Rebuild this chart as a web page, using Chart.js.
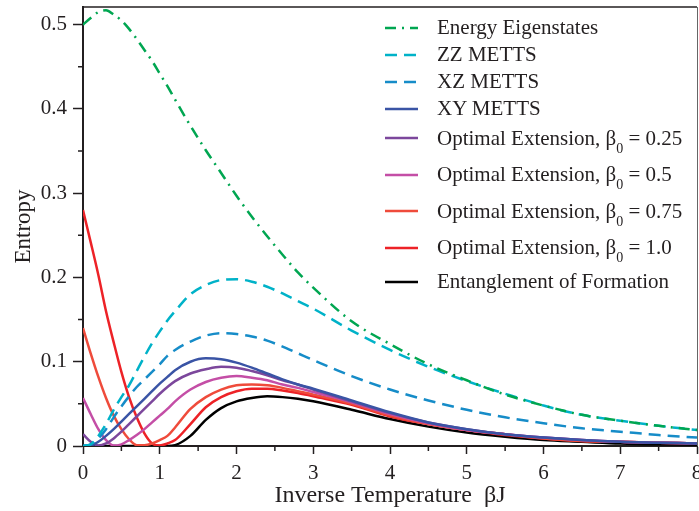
<!DOCTYPE html>
<html>
<head>
<meta charset="utf-8">
<script src="https://cdn.jsdelivr.net/npm/chart.js@4.4.1/dist/chart.umd.min.js"></script>
<style>
  html, body { margin: 0; padding: 0; background: #fff; overflow: hidden; }
  #wrap { position: relative; width: 699px; height: 511px; }
  #legend {
    position: absolute; left: 385px; top: 14px;
    font-family: 'Liberation Serif', 'Times New Roman', serif;
    font-size: 21px; color: #231f20;
  }
  .row { display: flex; align-items: center; height: 27px; white-space: nowrap; box-sizing: border-box; }
  .row.tall { height: 36.5px; padding-bottom: 4px; }
  .row svg { width: 33px; height: 6px; margin-right: 19px; flex: none; }
  sub { font-size: 14px; vertical-align: -8px; line-height: 0; }
</style>
</head>
<body>
<div id="wrap">
  <canvas id="entropyChart" width="699" height="511"></canvas>
  <div id="legend"></div>
</div>
<script>
// valores
const betaJ = [0, 0.1, 0.2, 0.3, 0.4, 0.5, 0.6, 0.7, 0.8, 0.9, 1.0, 1.1, 1.2, 1.4, 1.6, 1.8, 2.0, 2.2, 2.4, 2.6, 2.8, 3.0, 3.5, 4, 4.5, 5, 5.5, 6, 6.5, 7, 7.5, 8];

const energyEig = [0.500, 0.508, 0.515, 0.517, 0.512, 0.505, 0.495, 0.483, 0.470, 0.457, 0.442, 0.427, 0.411, 0.380, 0.351, 0.324, 0.297, 0.272, 0.249, 0.227, 0.206, 0.188, 0.148, 0.121, 0.097, 0.078, 0.061, 0.048, 0.037, 0.030, 0.024, 0.019];
const zzMetts = [0, 0.002, 0.012, 0.026, 0.043, 0.058, 0.072, 0.089, 0.106, 0.122, 0.136, 0.149, 0.160, 0.180, 0.191, 0.197, 0.198, 0.195, 0.189, 0.181, 0.172, 0.163, 0.137, 0.114, 0.094, 0.077, 0.062, 0.048, 0.037, 0.030, 0.024, 0.019];
const xzMetts = [0, 0.002, 0.009, 0.020, 0.034, 0.047, 0.059, 0.070, 0.079, 0.088, 0.097, 0.107, 0.114, 0.124, 0.131, 0.134, 0.133, 0.130, 0.125, 0.118, 0.110, 0.102, 0.083, 0.067, 0.054, 0.043, 0.034, 0.027, 0.021, 0.017, 0.013, 0.010];
const xyMetts = [0, 0.0005, 0.005, 0.012, 0.020, 0.029, 0.038, 0.047, 0.056, 0.065, 0.074, 0.082, 0.090, 0.100, 0.104, 0.103, 0.099, 0.093, 0.086, 0.079, 0.073, 0.068, 0.054, 0.040, 0.028, 0.020, 0.014, 0.010, 0.007, 0.005, 0.004, 0.003];
const optExt025 = [0.014, 0.005, 0.0005, 0.003, 0.009, 0.017, 0.026, 0.035, 0.044, 0.053, 0.062, 0.070, 0.077, 0.086, 0.091, 0.094, 0.093, 0.089, 0.084, 0.078, 0.073, 0.067, 0.053, 0.039, 0.028, 0.020, 0.014, 0.010, 0.007, 0.005, 0.004, 0.003];
const optExt05 = [0.057, 0.038, 0.020, 0.007, 0.0005, 0.002, 0.007, 0.013, 0.020, 0.028, 0.036, 0.044, 0.053, 0.067, 0.076, 0.081, 0.083, 0.081, 0.078, 0.073, 0.069, 0.064, 0.052, 0.038, 0.027, 0.019, 0.014, 0.010, 0.007, 0.005, 0.004, 0.003];
const optExt075 = [0.140, 0.110, 0.082, 0.057, 0.036, 0.020, 0.008, 0.001, 0.001, 0.003, 0.007, 0.012, 0.022, 0.044, 0.058, 0.067, 0.072, 0.073, 0.072, 0.069, 0.065, 0.061, 0.050, 0.036, 0.026, 0.019, 0.014, 0.009, 0.006, 0.005, 0.004, 0.003];
const optExt10 = [0.280, 0.242, 0.203, 0.160, 0.123, 0.088, 0.058, 0.034, 0.015, 0.003, 0.0005, 0.003, 0.007, 0.026, 0.046, 0.058, 0.065, 0.068, 0.068, 0.066, 0.063, 0.059, 0.049, 0.035, 0.026, 0.019, 0.013, 0.009, 0.006, 0.005, 0.004, 0.003];
const entFormation = [0, 0, 0, 0, 0, 0, 0, 0, 0, 0, 0, 0, 0.001, 0.012, 0.031, 0.045, 0.053, 0.057, 0.059, 0.058, 0.056, 0.053, 0.043, 0.032, 0.023, 0.016, 0.011, 0.007, 0.005, 0.003, 0.002, 0.0015];

const xTicks = [0, 1, 2, 3, 4, 5, 6, 7, 8];
const xMinorTicks = [0.5, 1.5, 2.5, 3.5, 4.5, 5.5, 6.5, 7.5];
const yTicks = [0, 0.1, 0.2, 0.3, 0.4, 0.5];
const yMinorTicks = [0.05, 0.15, 0.25, 0.35, 0.45];

const SERIF = "'Liberation Serif', 'Times New Roman', serif";
const INK = '#231f20';

const toPoints = (vals) => betaJ.map((x, i) => ({ x: x, y: vals[i] }));

function serie(label, vals, color, dash) {
  return {
    label: label,
    data: toPoints(vals),
    borderColor: color,
    backgroundColor: color,
    borderWidth: 2.5,
    borderDash: dash || [],
    fill: false,
    pointRadius: 0,
    cubicInterpolationMode: 'monotone',
  };
}

// marcas menores y marco superior/derecho
const frameTicks = {
  id: 'frameTicks',
  afterDraw(chart) {
    const { ctx, chartArea: a, scales: { x, y } } = chart;
    ctx.save();
    ctx.strokeStyle = INK;
    ctx.lineWidth = 1.5;
    ctx.beginPath();
    xMinorTicks.forEach((v) => {
      const px = x.getPixelForValue(v);
      ctx.moveTo(px, a.bottom);
      ctx.lineTo(px, a.bottom + 5);
    });
    yMinorTicks.forEach((v) => {
      const py = y.getPixelForValue(v);
      ctx.moveTo(a.left, py);
      ctx.lineTo(a.left - 5, py);
    });
    ctx.stroke();
    ctx.beginPath();
    ctx.moveTo(a.left, a.top);
    ctx.lineTo(a.right, a.top);
    ctx.stroke();
    ctx.strokeStyle = '#666';
    ctx.lineWidth = 1;
    ctx.beginPath();
    ctx.moveTo(a.right + 0.5, a.top);
    ctx.lineTo(a.right + 0.5, a.bottom);
    ctx.stroke();
    ctx.restore();
  },
};

function buildLegend(chart) {
  const box = document.getElementById('legend');
  box.innerHTML = '';
  chart.data.datasets.forEach((ds) => {
    const row = document.createElement('div');
    const hasSub = ds.label.includes('β0');
    row.className = hasSub ? 'row tall' : 'row';
    const dash = (ds.borderDash || []).join(' ');
    row.innerHTML =
      `<svg viewBox="0 0 33 6"><line x1="0" y1="3" x2="33" y2="3" stroke="${ds.borderColor}" ` +
      `stroke-width="${ds.borderWidth}" stroke-dasharray="${dash}"/></svg>` +
      `<span>${ds.label.replace('β0', 'β<sub>0</sub>')}</span>`;
    box.appendChild(row);
  });
}

const chart = new Chart(document.getElementById('entropyChart'), {
  type: 'line',
  data: {
    datasets: [
      serie('Energy Eigenstates', energyEig, '#00a651', [11, 6, 2, 6]),
      serie('ZZ METTS', zzMetts, '#00b2c8', [12, 7]),
      serie('XZ METTS', xzMetts, '#168cc8', [12, 7]),
      serie('XY METTS', xyMetts, '#3a54a5'),
      serie('Optimal Extension, β0 = 0.25', optExt025, '#7c479c'),
      serie('Optimal Extension, β0 = 0.5', optExt05, '#c44ea6'),
      serie('Optimal Extension, β0 = 0.75', optExt075, '#ef4b3b'),
      serie('Optimal Extension, β0 = 1.0', optExt10, '#ed2227'),
      serie('Entanglement of Formation', entFormation, '#000000'),
    ],
  },
  options: {
    responsive: false,
    animation: false,
    devicePixelRatio: 1,
    layout: { padding: { left: 0, right: 2, top: 7, bottom: 0 } },
    plugins: {
      legend: { display: false },
      tooltip: { enabled: false },
    },
    scales: {
      x: {
        type: 'linear',
        min: 0,
        max: 8,
        afterBuildTicks: (s) => { s.ticks = xTicks.map((v) => ({ value: v })); },
        afterFit: (s) => { s.height = 65; s.paddingLeft = 0; s.paddingRight = 0; },
        grid: { drawOnChartArea: false, drawTicks: true, tickLength: 8, tickWidth: 1.5, tickColor: INK },
        border: { display: true, color: INK, width: 2 },
        ticks: {
          padding: 7,
          color: INK,
          autoSkip: false,
          maxRotation: 0,
          font: { family: SERIF, size: 21 },
          callback: (v) => String(v),
        },
        title: {
          display: true,
          text: 'Inverse Temperature  βJ',
          color: INK,
          font: { family: SERIF, size: 24 },
          padding: { top: 0, bottom: 1 },
        },
      },
      y: {
        min: 0,
        max: 0.521,
        afterBuildTicks: (s) => { s.ticks = yTicks.map((v) => ({ value: v })); },
        afterFit: (s) => { s.width = 83; s.paddingTop = 0; s.paddingBottom = 0; },
        grid: { drawOnChartArea: false, drawTicks: true, tickLength: 10, tickWidth: 1.5, tickColor: INK },
        border: { display: true, color: INK, width: 2 },
        ticks: {
          padding: 6,
          color: INK,
          font: { family: SERIF, size: 21 },
          callback: (v) => (v === 0 ? '0' : v.toFixed(1)),
        },
        title: {
          display: true,
          text: 'Entropy',
          color: INK,
          font: { family: SERIF, size: 23 },
          padding: { top: 10, bottom: 0 },
        },
      },
    },
  },
  plugins: [frameTicks],
});

buildLegend(chart);
</script>
</body>
</html>
